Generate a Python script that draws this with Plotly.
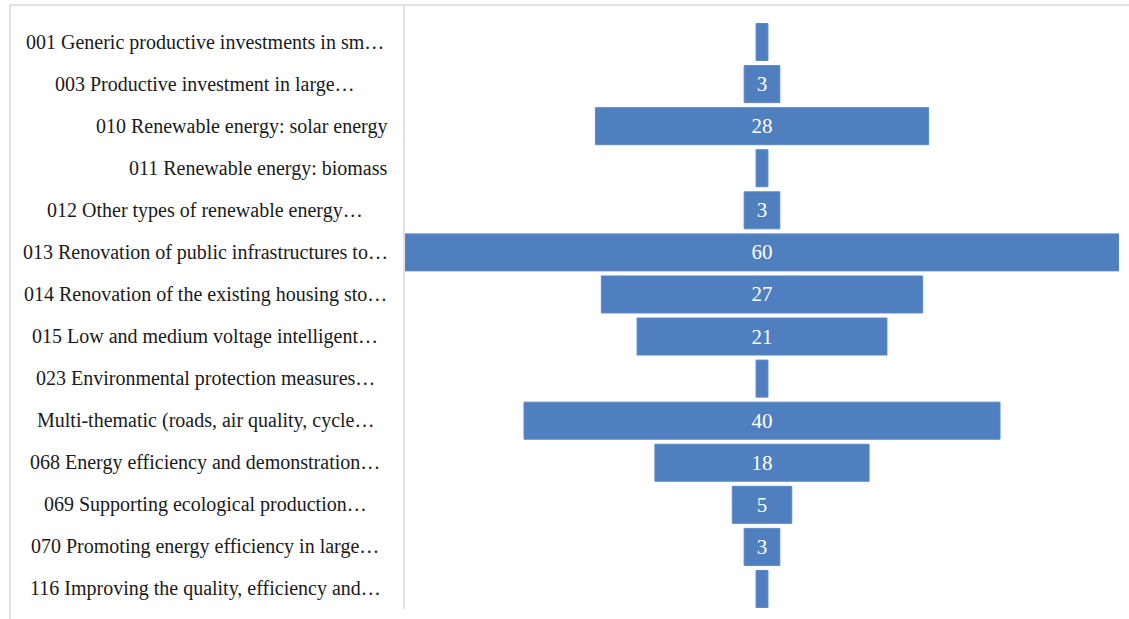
import plotly.graph_objects as go

categories = [
    "001 Generic productive investments in sm…",
    "003 Productive investment in large…",
    "010 Renewable energy: solar energy",
    "011 Renewable energy: biomass",
    "012 Other types of renewable energy…",
    "013 Renovation of public infrastructures to…",
    "014 Renovation of the existing housing sto…",
    "015 Low and medium voltage intelligent…",
    "023 Environmental protection measures…",
    "Multi-thematic (roads, air quality, cycle…",
    "068 Energy efficiency and demonstration…",
    "069 Supporting ecological production…",
    "070 Promoting energy efficiency in large…",
    "116 Improving the quality, efficiency and…",
]
values = [1, 3, 28, 1, 3, 60, 27, 21, 1, 40, 18, 5, 3, 1]

W, H = 1129, 619
L, R, T, B = 405, 10, 21, 9
pw = W - L - R
ph = H - T - B

SERIF = "Liberation Serif, Times New Roman, DejaVu Serif, serif"

bar_text = [str(v) if v > 1 else "" for v in values]

fig = go.Figure(go.Funnel(
    y=list(range(len(categories))),
    x=values,
    text=bar_text,
    textinfo="text",
    textposition="inside",
    insidetextanchor="middle",
    textfont=dict(family=SERIF, size=21, color="white"),
    marker=dict(color="#4F7FBE", line=dict(color="#5A8AC8", width=1)),
    connector=dict(visible=False),
    hoverinfo="x+text",
    orientation="h",
))

def px_x(p):
    return (p - L) / pw

def px_y(p):
    return (H - B - p) / ph

annotations = []
n = len(categories)
for i, c in enumerate(categories):
    yc = 1 - (i + 0.5) / n
    if c.endswith("…"):
        annotations.append(dict(x=px_x(205), y=yc, xref="paper", yref="paper",
                                text=c, showarrow=False, xanchor="center", yanchor="middle",
                                font=dict(family=SERIF, size=20, color="#1a1a1a")))
    else:
        annotations.append(dict(x=px_x(389), y=yc, xref="paper", yref="paper",
                                text=c, showarrow=False, xanchor="right", yanchor="middle",
                                font=dict(family=SERIF, size=20, color="#1a1a1a")))

shapes = [
    dict(type="line", xref="paper", yref="paper", x0=px_x(10), x1=px_x(10),
         y0=px_y(5), y1=px_y(625), line=dict(color="#d9d9d9", width=1.5)),
    dict(type="line", xref="paper", yref="paper", x0=px_x(10), x1=px_x(1135),
         y0=px_y(5), y1=px_y(5), line=dict(color="#d9d9d9", width=1.5)),
    dict(type="line", xref="paper", yref="paper", x0=px_x(404), x1=px_x(404),
         y0=px_y(5), y1=px_y(609), line=dict(color="#d9d9d9", width=1.5)),
]

fig.update_layout(
    width=W, height=H,
    margin=dict(l=L, r=R, t=T, b=B),
    paper_bgcolor="white", plot_bgcolor="white",
    showlegend=False,
    funnelgap=0.12,
    xaxis=dict(range=[-30, 30], visible=False, fixedrange=True),
    yaxis=dict(range=[n - 0.5, -0.5], visible=False, fixedrange=True),
    annotations=annotations,
    shapes=shapes,
)

fig.write_html("out.html")
